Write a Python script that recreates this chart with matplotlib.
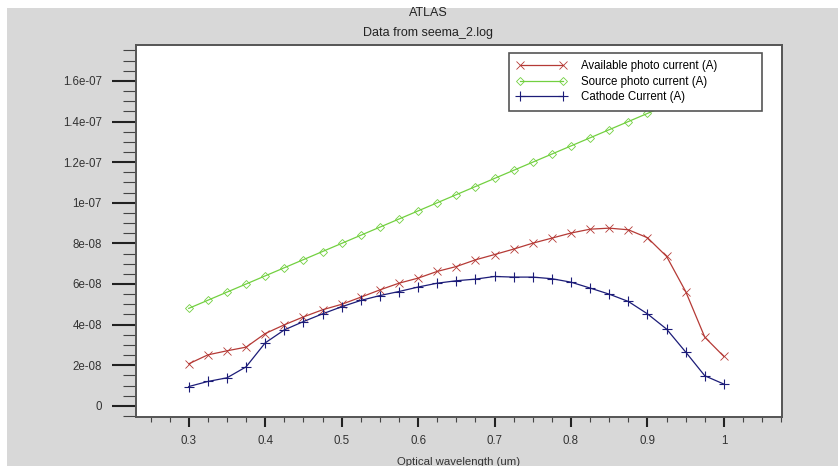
import numpy as np
import matplotlib
matplotlib.use("Agg")
import matplotlib.pyplot as plt
from matplotlib.patches import Rectangle
from matplotlib.ticker import MultipleLocator, FuncFormatter

plt.rcParams['font.family'] = ['Liberation Sans', 'DejaVu Sans']

# Optical wavelength (um)
wavelength = [0.3, 0.325, 0.35, 0.375, 0.4, 0.425, 0.45, 0.475, 0.5, 0.525,
              0.55, 0.575, 0.6, 0.625, 0.65, 0.675, 0.7, 0.725, 0.75, 0.775,
              0.8, 0.825, 0.85, 0.875, 0.9, 0.925, 0.95, 0.975, 1.0]

# currents in units of 1e-08 A
available = [2.07, 2.51, 2.71, 2.89, 3.56, 3.99, 4.38, 4.73, 5.00, 5.35,
             5.71, 6.04, 6.29, 6.62, 6.86, 7.19, 7.45, 7.72, 8.01, 8.26,
             8.51, 8.70, 8.75, 8.67, 8.28, 7.36, 5.63, 3.38, 2.43]
source = [4.8, 5.2, 5.6, 6.0, 6.4, 6.8, 7.2, 7.6, 8.0, 8.4,
          8.8, 9.2, 9.6, 10.0, 10.4, 10.8, 11.2, 11.6, 12.0, 12.4,
          12.8, 13.2, 13.6, 14.0, 14.4, 14.8, 15.2, 15.6, 16.0]
cathode = [0.95, 1.20, 1.38, 1.92, 3.10, 3.74, 4.15, 4.53, 4.88, 5.19,
           5.43, 5.63, 5.85, 6.04, 6.16, 6.24, 6.37, 6.34, 6.34, 6.26,
           6.09, 5.80, 5.50, 5.14, 4.53, 3.78, 2.65, 1.48, 1.07]

series_labels = ['Available photo current (A)', 'Source photo current (A)', 'Cathode Current (A)']

x = np.array(wavelength)
scale = 1e-08
W, H = 838, 466

fig = plt.figure(figsize=(W / 100, H / 100), dpi=100)
fig.patch.set_facecolor('white')
# grey panel behind everything (thin white strip at top / left)
fig.patches.append(Rectangle((7 / W, 0), 1, 1 - 8 / H, transform=fig.transFigure,
                             facecolor='#d8d8d8', edgecolor='none', zorder=-10))

ax = fig.add_axes([136 / W, 1 - 417 / H, (782 - 136) / W, (417 - 45) / H])
ax.set_facecolor('white')

ax.plot(x, np.array(available) * scale, color='#b53a36', lw=0.9, marker='x',
        ms=6, mew=0.6, label=series_labels[0])
ax.plot(x, np.array(source) * scale, color='#72d040', lw=0.9, marker='D',
        ms=4.5, mew=0.6, mfc='none', label=series_labels[1])
ax.plot(x, np.array(cathode) * scale, color='#1c1c78', lw=0.9, marker='+',
        ms=6.5, mew=0.8, label=series_labels[2])

ax.set_xlim(0.231, 1.076)
ax.set_ylim(-5.5e-09, 1.777e-07)

ax.xaxis.set_major_locator(MultipleLocator(0.1))
ax.xaxis.set_minor_locator(MultipleLocator(0.025))
ax.yaxis.set_major_locator(MultipleLocator(2e-08))
ax.yaxis.set_minor_locator(MultipleLocator(5e-09))


def xfmt(v, pos):
    return f"{v:g}"


def yfmt(v, pos):
    if abs(v) < 1e-12:
        return "0"
    s = f"{v:.1e}"
    mant, exp = s.split('e')
    mant = mant.rstrip('0').rstrip('.')
    return f"{mant}e{exp}"


ax.xaxis.set_major_formatter(FuncFormatter(xfmt))
ax.yaxis.set_major_formatter(FuncFormatter(yfmt))

# tick lengths given in points (1 px = 0.72 pt at 100 dpi)
ax.tick_params(axis='x', which='major', direction='out', length=7.2, width=1.5,
               color='#222222', labelsize=8.3, labelcolor='#333333', pad=5.4)
ax.tick_params(axis='x', which='minor', direction='out', length=3.6, width=0.8, color='#444444')
ax.tick_params(axis='y', which='major', direction='out', length=17.3, width=1.5,
               color='#222222', labelsize=8.3, labelcolor='#333333', pad=7.2)
ax.tick_params(axis='y', which='minor', direction='out', length=9.4, width=0.8, color='#444444')

for sp in ax.spines.values():
    sp.set_color('#555555')
    sp.set_linewidth(1.4)

fig.text(428 / W, 1 - 13 / H, 'ATLAS', ha='center', va='center', fontsize=9, color='#222222')
fig.text(428 / W, 1 - 33 / H, 'Data from seema_2.log', ha='center', va='center',
         fontsize=9, color='#222222')
fig.text(459 / W, 1 - 462 / H, 'Optical wavelength (um)', ha='center', va='center',
         fontsize=8.2, color='#333333')

# legend box spans x 509..762, y 53..109 px
leg = ax.legend(loc='upper left', bbox_to_anchor=(509 / W, 1 - 109 / H, (762 - 509) / W, (109 - 53) / H),
                bbox_transform=fig.transFigure, mode='expand', fontsize=8.3, numpoints=2,
                handlelength=4.3, handletextpad=1.3, borderpad=0.65, labelspacing=0.3,
                fancybox=False, framealpha=1, edgecolor='#555555', borderaxespad=0)
leg.get_frame().set_linewidth(1.2)

fig.savefig('out.png', dpi=100)
